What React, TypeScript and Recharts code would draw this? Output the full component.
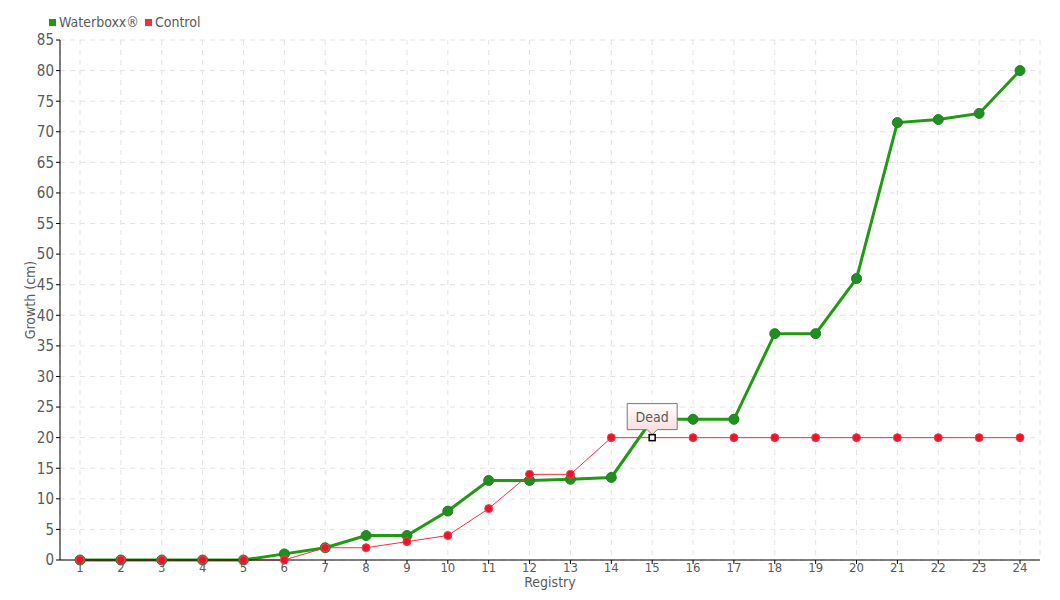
import React from "react";
import { LineChart, Line, XAxis, YAxis, CartesianGrid } from "recharts";

const registries = ["1","2","3","4","5","6","7","8","9","10","11","12","13","14","15","16","17","18","19","20","21","22","23","24"];
const waterboxx = [0,0,0,0,0,1,2,4,4,8,13,13,13.2,13.5,23,23,23,37,37,46,71.5,72,73,80];
const control = [0,0,0,0,0,0,2,2,3,4,8.4,14,14,20,20,20,20,20,20,20,20,20,20,20];
const yTicks = [0,5,10,15,20,25,30,35,40,45,50,55,60,65,70,75,80,85];
const controlNotes: Record<string, string> = { "15": "Dead" };

const data = registries.map((r, i) => ({ registry: r, waterboxx: waterboxx[i], control: control[i] }));

const FONT = "'DejaVu Sans Condensed', 'DejaVu Sans', sans-serif";
const GREEN = "#1f9a12";
const RED = "#f0303f";
const TEXT = "#5a5a5a";

const ControlDot = (props: any) => {
  const { cx, cy, payload, index } = props;
  const note = controlNotes[payload.registry];
  if (note) {
    const bw = 50, bh = 26;
    const bx = cx - bw / 2, by = cy - 34;
    return (
      <g key={`cd-${index}`}>
        <defs>
          <linearGradient id="noteGrad" x1="0" y1="0" x2="0" y2="1">
            <stop offset="0%" stopColor="#ffffff" />
            <stop offset="100%" stopColor="#fbd9d9" />
          </linearGradient>
        </defs>
        <path
          d={`M${bx},${by} H${bx + bw} V${by + bh} H${cx + 5} L${cx},${by + bh + 5} L${cx - 5},${by + bh} H${bx} Z`}
          fill="url(#noteGrad)"
          stroke="#777"
          strokeWidth={1}
        />
        <text x={cx} y={by + 18} textAnchor="middle" fontSize={14} fill={TEXT} fontFamily={FONT}>
          {note}
        </text>
        <rect x={cx - 3} y={cy - 3} width={6} height={6} fill="#fff" stroke="#000" strokeWidth={1.5} />
      </g>
    );
  }
  return <circle key={`cd-${index}`} cx={cx} cy={cy} r={4} fill="#e8162a" stroke="#f04050" strokeWidth={1} />;
};

export default function App() {
  return (
    <div style={{ position: "absolute", left: 0, top: 0, width: 1060, height: 600, background: "#fff", fontFamily: FONT }}>
      <div style={{ position: "absolute", left: 49, top: 14, fontSize: 14, color: TEXT, display: "flex", alignItems: "center", whiteSpace: "nowrap", zIndex: 2 }}>
        <span style={{ display: "inline-block", width: 7, height: 7, background: GREEN, marginRight: 3 }} />
        <span style={{ marginRight: 6 }}>Waterboxx®</span>
        <span style={{ display: "inline-block", width: 7, height: 7, background: RED, marginRight: 3 }} />
        <span>Control</span>
      </div>
      <LineChart width={1060} height={600} data={data} margin={{ top: 40, right: 20, bottom: 10, left: 20 }}>
        <CartesianGrid stroke="#e3e3e3" strokeDasharray="5 5" />
        <XAxis
          dataKey="registry"
          padding={{ left: 20, right: 20 }}
          height={30}
          tickSize={4}
          axisLine={{ stroke: "#000" }}
          tickLine={{ stroke: "#000" }}
          tick={{ fill: TEXT, fontSize: 13, fontFamily: FONT, dy: -3 }}
          interval={0}
          label={{ value: "Registry", position: "insideBottom", offset: 3, fill: TEXT, fontSize: 14, fontFamily: FONT }}
        />
        <YAxis
          domain={[0, 85]}
          ticks={yTicks}
          width={40}
          tickSize={4}
          interval={0}
          axisLine={{ stroke: "#000" }}
          tickLine={{ stroke: "#000" }}
          tick={{ fill: TEXT, fontSize: 15, fontFamily: FONT }}
          label={{ value: "Growth (cm)", angle: -90, position: "insideLeft", offset: 10, fill: TEXT, fontSize: 14, fontFamily: FONT, style: { textAnchor: "middle" } }}
        />
        <Line
          type="linear"
          dataKey="waterboxx"
          stroke={GREEN}
          strokeWidth={3}
          dot={{ r: 5, fill: "#1f8f1f", stroke: "#2a7a2a", strokeWidth: 1 }}
          activeDot={false}
          isAnimationActive={false}
        />
        <Line
          type="linear"
          dataKey="control"
          stroke={RED}
          strokeWidth={1}
          dot={ControlDot}
          activeDot={false}
          isAnimationActive={false}
        />
      </LineChart>
    </div>
  );
}
